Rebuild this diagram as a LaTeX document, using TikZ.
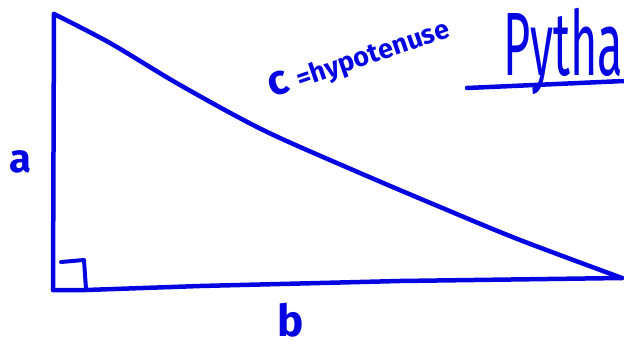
\documentclass[tikz,border=0pt]{standalone}
\usepackage{fontspec}
\setmainfont{Fira Sans}
\definecolor{ink}{RGB}{5,5,225}
\begin{document}
\begin{tikzpicture}[x=1pt,y=-1pt,
  pen/.style={draw=ink,line width=4.5pt,line cap=round,line join=round},
  hand/.style={text=ink,inner sep=0pt}]
\useasboundingbox (0,0) rectangle (624,345);
\coordinate (A) at (54,14);
\coordinate (B) at (53,290);
\coordinate (C) at (622,278);
% legs
\draw[pen] (A) -- (B);
\draw[pen] (B) -- (86,290) -- (200,286) -- (400,281) -- (C);
% hypotenuse
\draw[pen] plot[smooth,tension=0.5] coordinates {(54,14) (110,43) (180,85) (263,130) (353,170) (440,207) (520,240) (622,278)};
% right angle mark
\draw[pen,line width=4pt] (61,262) -- (84,260) -- (86,289);
% labels
\node[hand,anchor=base,font=\bfseries] (la) at (20,172) {\fontsize{40}{40}\selectfont a};
\node[hand,anchor=base,font=\bfseries] (lb) at (291,336) {\fontsize{44}{44}\selectfont b};
\node[hand,anchor=base west,rotate=19,font=\fontsize{27}{27}\selectfont\bfseries] (lc) at (272,98)
  {{\fontsize{42}{42}\selectfont c}\hspace{10pt}=hypotenuse};
\node[hand,anchor=base west,xscale=0.52] (lt) at (503,75) {\fontsize{90}{90}\selectfont Pytha};
\draw[pen] (467,88) -- (624,81);
\end{tikzpicture}
\end{document}
